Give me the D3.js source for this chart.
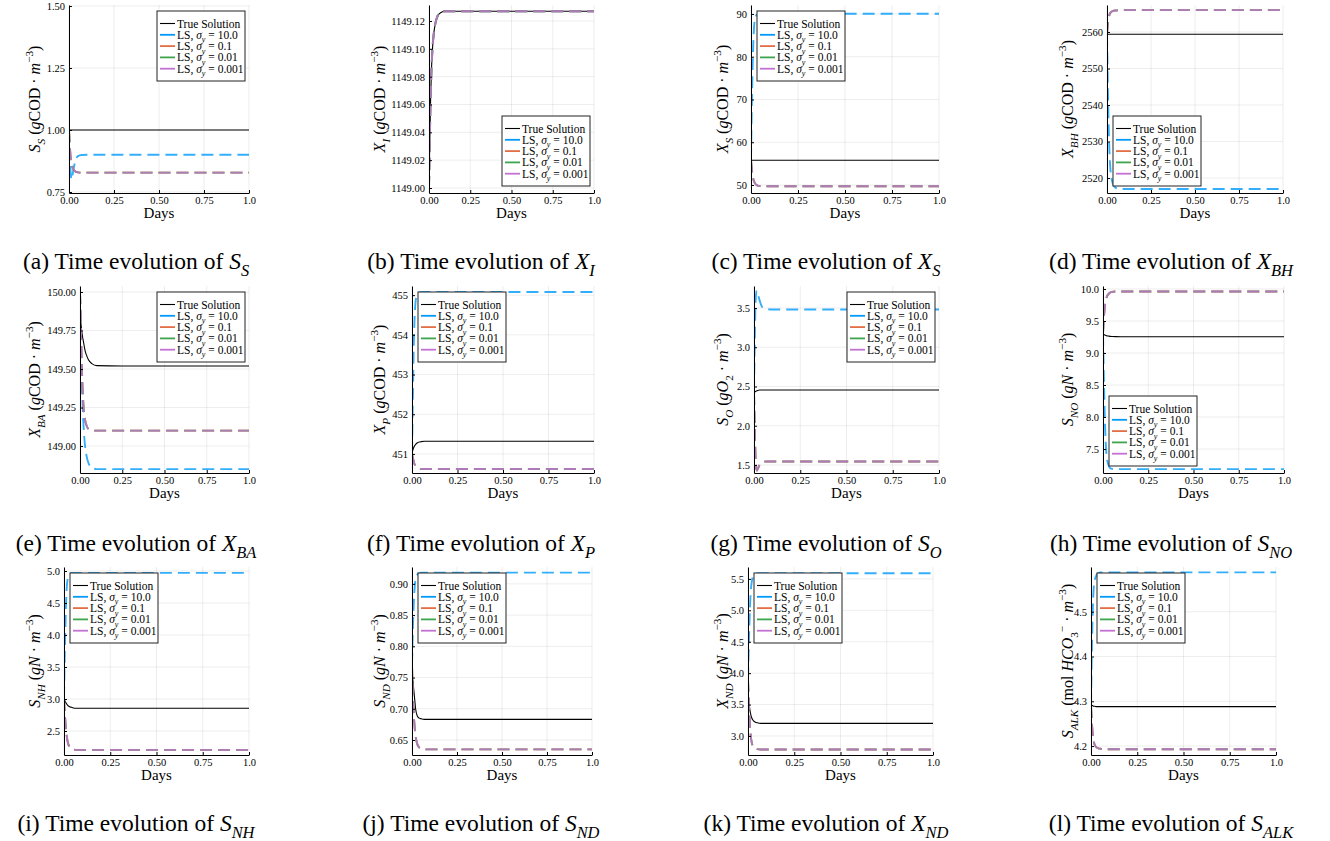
<!DOCTYPE html>
<html>
<head>
<meta charset="utf-8">
<title>Time evolution of ASM1 states</title>
<script src="https://d3js.org/d3.v7.min.js"></script>
<style>
  body { margin: 0; background: #fff; }
  text { font-family: "Liberation Serif", "Times New Roman", serif; fill: #000; }
  .grid line { stroke: #000; stroke-opacity: 0.1; stroke-width: 0.7px; }
  .axis path, .axis line { stroke: #000; stroke-width: 1px; }
  .axis text { font-family: "Liberation Serif", serif; font-size: 10.5px; }
  .legend rect { fill: #fff; stroke: #222; stroke-width: 1px; }
</style>
</head>
<body>
<script>
  // Time grid (days) shared by every series.
  const days = [0, 0.005, 0.01, 0.015, 0.02, 0.03, 0.04, 0.05, 0.07, 0.1, 0.25, 0.5, 1.0];
  const xTicks = [0, 0.25, 0.5, 0.75, 1.0];
  const sigmaLabels = ["10.0", "0.1", "0.01", "0.001"];
  const seriesColors = ["#000000", "#009afa", "#e36f47", "#3ea44e", "#c371d2"];

  // Values. "Low" = sigma 0.1 / 0.01 / 0.001, which overlap.
  const SS_true  = [1.0, 1.0, 1.0, 1.0, 1.0, 1.0, 1.0, 1.0, 1.0, 1.0, 1.0, 1.0, 1.0];
  const SS_ls10  = [1.0, 0.90, 0.82, 0.80, 0.82, 0.86, 0.885, 0.895, 0.899, 0.90, 0.90, 0.90, 0.90];
  const SS_low   = [1.0, 0.93, 0.885, 0.86, 0.848, 0.836, 0.831, 0.829, 0.828, 0.828, 0.828, 0.828, 0.828];

  const XI_true  = [1149.0, 1149.035, 1149.065, 1149.085, 1149.098, 1149.112, 1149.119, 1149.123, 1149.126, 1149.127, 1149.127, 1149.127, 1149.127];
  const XI_ls10  = XI_true.slice();
  const XI_low   = XI_true.slice();

  const XS_true  = [55.8, 55.8, 55.8, 55.8, 55.8, 55.8, 55.8, 55.8, 55.8, 55.8, 55.8, 55.8, 55.8];
  const XS_ls10  = [55.8, 70, 80, 86, 88.5, 89.8, 90.0, 90.05, 90.05, 90.05, 90.05, 90.05, 90.05];
  const XS_low   = [55.8, 53.5, 51.9, 51.0, 50.5, 50.0, 49.8, 49.75, 49.7, 49.7, 49.7, 49.7, 49.7];

  const XBH_true = [2559.4, 2559.4, 2559.4, 2559.4, 2559.4, 2559.4, 2559.4, 2559.4, 2559.4, 2559.4, 2559.4, 2559.4, 2559.4];
  const XBH_ls10 = [2559.4, 2545, 2533, 2526, 2522, 2519, 2517.8, 2517.3, 2517.0, 2517.0, 2517.0, 2517.0, 2517.0];
  const XBH_low  = [2559.4, 2562.3, 2564.0, 2564.9, 2565.3, 2565.7, 2565.85, 2565.9, 2566.0, 2566.0, 2566.0, 2566.0, 2566.0];

  const XBA_true = [149.85, 149.8, 149.75, 149.71, 149.68, 149.62, 149.585, 149.56, 149.535, 149.522, 149.52, 149.52, 149.52];
  const XBA_ls10 = [150.0, 149.7, 149.45, 149.28, 149.15, 149.0, 148.93, 148.89, 148.86, 148.85, 148.85, 148.85, 148.85];
  const XBA_low  = [150.0, 149.78, 149.55, 149.38, 149.27, 149.17, 149.13, 149.11, 149.1, 149.1, 149.1, 149.1, 149.1];

  const XP_true  = [451.0, 451.1, 451.17, 451.21, 451.24, 451.28, 451.3, 451.31, 451.32, 451.32, 451.32, 451.32, 451.32];
  const XP_ls10  = [451.0, 452.5, 453.8, 454.5, 454.85, 455.03, 455.07, 455.08, 455.08, 455.08, 455.08, 455.08, 455.08];
  const XP_low   = [451.0, 450.9, 450.8, 450.73, 450.69, 450.65, 450.63, 450.62, 450.62, 450.62, 450.62, 450.62, 450.62];

  const SO_true  = [2.42, 2.43, 2.44, 2.445, 2.45, 2.455, 2.455, 2.455, 2.455, 2.455, 2.455, 2.455, 2.455];
  const SO_ls10  = [2.42, 3.2, 3.65, 3.72, 3.68, 3.6, 3.53, 3.5, 3.485, 3.48, 3.48, 3.48, 3.48];
  const SO_low   = [2.42, 1.9, 1.5, 1.43, 1.45, 1.5, 1.53, 1.54, 1.545, 1.545, 1.545, 1.545, 1.545];

  const SNO_true = [9.30, 9.29, 9.28, 9.275, 9.27, 9.265, 9.26, 9.258, 9.256, 9.255, 9.255, 9.255, 9.255];
  const SNO_ls10 = [9.30, 8.6, 8.0, 7.6, 7.4, 7.25, 7.2, 7.19, 7.185, 7.185, 7.185, 7.185, 7.185];
  const SNO_low  = [9.30, 9.55, 9.72, 9.82, 9.87, 9.92, 9.945, 9.955, 9.96, 9.96, 9.96, 9.96, 9.96];

  const SNH_true = [3.0, 2.97, 2.94, 2.92, 2.9, 2.88, 2.87, 2.86, 2.855, 2.855, 2.855, 2.855, 2.855];
  const SNH_ls10 = [3.0, 3.8, 4.4, 4.75, 4.88, 4.95, 4.97, 4.97, 4.97, 4.97, 4.97, 4.97, 4.97];
  const SNH_low  = [3.0, 2.75, 2.55, 2.42, 2.33, 2.25, 2.22, 2.21, 2.205, 2.205, 2.205, 2.205, 2.205];

  const SND_true = [0.76, 0.745, 0.73, 0.715, 0.70, 0.688, 0.685, 0.684, 0.683, 0.683, 0.683, 0.683, 0.683];
  const SND_ls10 = [0.77, 0.83, 0.87, 0.895, 0.907, 0.915, 0.917, 0.918, 0.918, 0.918, 0.918, 0.918, 0.918];
  const SND_low  = [0.77, 0.72, 0.69, 0.67, 0.656, 0.643, 0.638, 0.636, 0.635, 0.635, 0.635, 0.635, 0.635];

  const XND_true = [3.7, 3.55, 3.42, 3.34, 3.29, 3.24, 3.22, 3.21, 3.2, 3.2, 3.2, 3.2, 3.2];
  const XND_ls10 = [3.9, 4.5, 5.0, 5.3, 5.45, 5.55, 5.58, 5.59, 5.59, 5.59, 5.59, 5.59, 5.59];
  const XND_low  = [3.9, 3.5, 3.2, 3.0, 2.9, 2.82, 2.8, 2.79, 2.785, 2.785, 2.785, 2.785, 2.785];

  const SALK_true = [4.294, 4.291, 4.29, 4.289, 4.289, 4.288, 4.288, 4.288, 4.288, 4.288, 4.288, 4.288, 4.288];
  const SALK_ls10 = [4.29, 4.42, 4.51, 4.555, 4.57, 4.582, 4.586, 4.588, 4.588, 4.588, 4.588, 4.588, 4.588];
  const SALK_low  = [4.29, 4.25, 4.225, 4.21, 4.203, 4.197, 4.195, 4.194, 4.193, 4.193, 4.193, 4.193, 4.193];

  // Y tick labels per panel
  const ticksSS = [0.75, 1.0, 1.25, 1.5];
  const ticksXI = [1149.0, 1149.02, 1149.04, 1149.06, 1149.08, 1149.1, 1149.12];
  const ticksXS = [50, 60, 70, 80, 90];
  const ticksXBH = [2520, 2530, 2540, 2550, 2560];
  const ticksXBA = [149.0, 149.25, 149.5, 149.75, 150.0];
  const ticksXP = [451, 452, 453, 454, 455];
  const ticksSO = [1.5, 2.0, 2.5, 3.0, 3.5];
  const ticksSNO = [7.5, 8.0, 8.5, 9.0, 9.5, 10.0];
  const ticksSNH = [2.5, 3.0, 3.5, 4.0, 4.5, 5.0];
  const ticksSND = [0.65, 0.7, 0.75, 0.8, 0.85, 0.9];
  const ticksXND = [3.0, 3.5, 4.0, 4.5, 5.0, 5.5];
  const ticksSALK = [4.2, 4.3, 4.4, 4.5];

  // Label pieces: r roman, i italic, bi/br subscript, p superscript
  const unitCOD = [[" (", "r"], ["g", "i"], ["COD · ", "r"], ["m", "i"], ["−3", "p"], [")", "r"]];
  const unitN = [[" (", "r"], ["g", "i"], ["N", "i"], [" · ", "r"], ["m", "i"], ["−3", "p"], [")", "r"]];

  const panels = [
    { sym: ["S", "S"], unit: unitCOD, data: [SS_true, SS_ls10, SS_low], dom: [0.746, 1.504], ticks: ticksSS, fmt: ".2f", leg: "tr" },
    { sym: ["X", "I"], unit: unitCOD, data: [XI_true, XI_ls10, XI_low], dom: [1148.9964, 1149.1315], ticks: ticksXI, fmt: ".2f", leg: "br" },
    { sym: ["X", "S"], unit: unitCOD, data: [XS_true, XS_ls10, XS_low], dom: [48.13, 92.1], ticks: ticksXS, fmt: "d", leg: "tl" },
    { sym: ["X", "BH"], unit: unitCOD, data: [XBH_true, XBH_ls10, XBH_low], dom: [2515.9, 2567.4], ticks: ticksXBH, fmt: "d", leg: "bl" },
    { sym: ["X", "BA"], unit: unitCOD, data: [XBA_true, XBA_ls10, XBA_low], dom: [148.825, 150.039], ticks: ticksXBA, fmt: ".2f", leg: "tr" },
    { sym: ["X", "P"], unit: unitCOD, data: [XP_true, XP_ls10, XP_low], dom: [450.52, 455.23], ticks: ticksXP, fmt: "d", leg: "tl" },
    { sym: ["S", "O"], unit: [[" (", "r"], ["gO", "i"], ["2", "br"], [" · ", "r"], ["m", "i"], ["−3", "p"], [")", "r"]], data: [SO_true, SO_ls10, SO_low], dom: [1.398, 3.78], ticks: ticksSO, fmt: ".1f", leg: "tr" },
    { sym: ["S", "NO"], unit: unitN, data: [SNO_true, SNO_ls10, SNO_low], dom: [7.125, 10.047], ticks: ticksSNO, fmt: ".1f", leg: "bl" },
    { sym: ["S", "NH"], unit: unitN, data: [SNH_true, SNH_ls10, SNH_low], dom: [2.125, 5.0625], ticks: ticksSNH, fmt: ".1f", leg: "tl" },
    { sym: ["S", "ND"], unit: unitN, data: [SND_true, SND_ls10, SND_low], dom: [0.626, 0.927], ticks: ticksSND, fmt: ".2f", leg: "tl" },
    { sym: ["X", "ND"], unit: unitN, data: [XND_true, XND_ls10, XND_low], dom: [2.697, 5.69], ticks: ticksXND, fmt: ".1f", leg: "tl" },
    { sym: ["S", "ALK"], unit: [[" (", "r"], ["mol ", "r"], ["HCO", "i"], ["3", "br"], ["−", "p"], [" · ", "r"], ["m", "i"], ["−3", "p"], [")", "r"]], data: [SALK_true, SALK_ls10, SALK_low], dom: [4.18, 4.6], ticks: ticksSALK, fmt: ".1f", leg: "tl" }
  ];

  // Layout of the 4 x 3 grid
  const W = 1330, H = 841;
  const plotLeft  = [69, 429, 751, 1107, 80, 412, 754, 1103, 64, 412, 748, 1091];
  const plotRight = [249, 594, 939, 1283, 249, 594, 939, 1284, 249, 592, 933, 1276];
  const rowTop = [5, 286, 567];
  const rowBottom = [193, 473, 755];
  const yLabelX = [40, 385, 728, 1073];
  const captionX = [136, 481, 826, 1171];
  const captionY = [269, 551, 831];
  const legW = 88, legH = 70;

  const svg = d3.select("body").append("svg")
      .attr("width", W)
      .attr("height", H);

  // Write a label made of roman / italic / sub / superscript pieces.
  function addMath(sel, parts, size) {
    let shift = 0;
    parts.forEach(([t, s]) => {
      const target = (s === "bi" || s === "br") ? size * 0.3 : s === "p" ? -size * 0.42 : 0;
      const ts = sel.append("tspan").attr("dy", target - shift).text(t);
      shift = target;
      if (s === "i" || s === "bi") ts.attr("font-style", "italic");
      if (s === "bi" || s === "br" || s === "p") ts.attr("font-size", size * 0.7);
    });
  }

  const line = d3.line()
      .x(d => d[0])
      .y(d => d[1])
      .curve(d3.curveMonotoneX);

  panels.forEach((p, i) => {
    const col = i % 4, row = Math.floor(i / 4);
    const x = d3.scaleLinear().domain([0, 1]).range([plotLeft[i], plotRight[i]]);
    const y = d3.scaleLinear().domain(p.dom).range([rowBottom[row], rowTop[row]]);
    const g = svg.append("g");

    // grid
    const grid = g.append("g").attr("class", "grid");
    grid.selectAll("line.gx").data(xTicks).join("line")
        .attr("class", "gx")
        .attr("x1", d => x(d)).attr("x2", d => x(d))
        .attr("y1", rowBottom[row]).attr("y2", rowTop[row]);
    grid.selectAll("line.gy").data(p.ticks).join("line")
        .attr("class", "gy")
        .attr("x1", plotLeft[i]).attr("x2", plotRight[i])
        .attr("y1", d => y(d)).attr("y2", d => y(d));

    // clip
    svg.append("clipPath").attr("id", "clip" + i)
      .append("rect")
        .attr("x", plotLeft[i]).attr("y", rowTop[row])
        .attr("width", plotRight[i] - plotLeft[i])
        .attr("height", rowBottom[row] - rowTop[row]);

    // series: true, sigma 10, 0.1, 0.01, 0.001
    const series = [p.data[0], p.data[1], p.data[2], p.data[2], p.data[2]];
    series.forEach((vals, s) => {
      const pts = vals.map((v, k) => [x(days[k]), y(v)]);
      g.append("path")
          .attr("clip-path", `url(#clip${i})`)
          .attr("d", line(pts))
          .attr("fill", "none")
          .attr("stroke", seriesColors[s])
          .attr("stroke-width", s === 0 ? 1.1 : 1.9)
          .attr("stroke-opacity", s === 0 ? 1 : 0.8)
          .attr("stroke-dasharray", s === 0 ? null : "12,6");
    });

    // axes
    g.append("g").attr("class", "axis")
        .attr("transform", `translate(0,${rowBottom[row]})`)
        .call(d3.axisBottom(x).tickValues(xTicks).tickSizeInner(-3).tickSizeOuter(0).tickPadding(4)
          .tickFormat(d => d === 1 ? "1.0" : d3.format(".2f")(d)));
    g.append("g").attr("class", "axis")
        .attr("transform", `translate(${plotLeft[i]},0)`)
        .call(d3.axisLeft(y).tickValues(p.ticks).tickSizeInner(-3).tickSizeOuter(0).tickPadding(4)
          .tickFormat(d3.format(p.fmt)));

    // x label
    g.append("text")
        .attr("x", (plotLeft[i] + plotRight[i]) / 2)
        .attr("y", rowBottom[row] + 25)
        .attr("text-anchor", "middle")
        .attr("font-size", 15)
        .text("Days");

    // y label
    const yl = g.append("text")
        .attr("transform", `translate(${yLabelX[col]},${(rowTop[row] + rowBottom[row]) / 2}) rotate(-90)`)
        .attr("text-anchor", "middle")
        .attr("font-size", 16);
    addMath(yl, [[p.sym[0], "i"], [p.sym[1], "bi"]].concat(p.unit), 16);

    // legend
    const lx = p.leg[1] === "r" ? plotRight[i] - 4 - legW : plotLeft[i] + 6;
    const ly = p.leg[0] === "t" ? rowTop[row] + 6 : rowBottom[row] - 7 - legH;
    const lg = g.append("g").attr("class", "legend").attr("transform", `translate(${lx},${ly})`);
    lg.append("rect").attr("width", legW).attr("height", legH);
    const entries = [[["True Solution", "r"]]].concat(sigmaLabels.map(sv =>
      [["LS, ", "r"], ["σ", "i"], ["y", "bi"], [" = " + sv, "r"]]));
    entries.forEach((parts, k) => {
      const ey = 12.5 + k * 11.3;
      lg.append("line")
          .attr("x1", 3).attr("x2", 18).attr("y1", ey).attr("y2", ey)
          .attr("stroke", seriesColors[k])
          .attr("stroke-width", k === 0 ? 1.1 : 1.8);
      const t = lg.append("text").attr("x", 20).attr("y", ey + 4).attr("font-size", 11.5);
      addMath(t, parts, 11.5);
    });

    // caption
    const cap = svg.append("text")
        .attr("x", captionX[col])
        .attr("y", captionY[row])
        .attr("text-anchor", "middle")
        .attr("font-size", 23.5);
    const letter = "abcdefghijkl"[i];
    addMath(cap, [[`(${letter}) Time evolution of `, "r"], [p.sym[0], "i"], [p.sym[1], "bi"]], 23.5);
  });
</script>
</body>
</html>
